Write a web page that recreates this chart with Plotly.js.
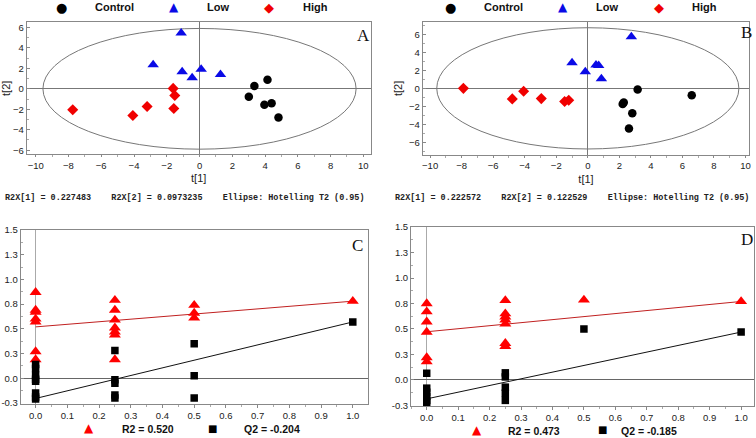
<!DOCTYPE html>
<html>
<head>
<meta charset="utf-8">
<script src="https://cdn.plot.ly/plotly-3.0.1.min.js"></script>
<style>html,body{margin:0;padding:0;background:#fff;}#chart{width:756px;height:438px;}</style>
</head>
<body>
<div id="chart"></div>
<script>
// ---------- Data ----------
const groupNames = ['Control', 'Low', 'High'];

// Panel A scores
const A_control_t1 = [3.01, 3.35, 4.15, 3.96, 4.40, 4.82];
const A_control_t2 = [-0.77, 0.27, 0.89, -1.56, -1.40, -2.80];
const A_low_t1 = [-1.12, -2.83, -1.06, -0.45, 0.10, 1.28];
const A_low_t2 = [5.45, 2.36, 1.67, 1.09, 1.90, 1.41];
const A_high_t1 = [-7.74, -4.07, -3.20, -1.61, -1.51, -1.57];
const A_high_t2 = [-2.05, -2.60, -1.72, 0.04, -0.65, -1.92];
const A_ellipse = [9.56, 5.90]; // Hotelling T2 (0.95) semi-axes
const A_stats = 'R2X[1] = 0.227483    R2X[2] = 0.0973235    Ellipse: Hotelling T2 (0.95)';

// Panel B scores
const B_control_t1 = [3.16, 6.59, 2.21, 2.28, 2.82, 2.61];
const B_control_t2 = [-0.14, -0.77, -1.73, -1.58, -2.76, -4.46];
const B_low_t1 = [2.76, -1.00, -0.16, 0.52, 0.69, 0.86];
const B_low_t2 = [5.73, 2.85, 1.85, 2.59, 2.55, 1.07];
const B_high_t1 = [-7.89, -4.07, -4.79, -2.95, -1.47, -1.21];
const B_high_t2 = [0.00, -0.32, -1.17, -1.14, -1.47, -1.32];
const B_ellipse = [9.58, 6.73];
const B_stats = 'R2X[1] = 0.222572    R2X[2] = 0.122529    Ellipse: Hotelling T2 (0.95)';

// Panel C permutation test
const C_r2_x = [0,0,0,0,0,0,0, 0.25,0.25,0.25,0.25,0.25,0.25,0.25, 0.5,0.5,0.5, 1];
const C_r2_y = [0.87,0.69,0.67,0.60,0.57,0.27,0.19, 0.79,0.69,0.59,0.51,0.47,0.44,0.19, 0.74,0.66,0.61, 0.78];
const C_q2_x = [0,0,0,0,0,0,0,0, 0.25,0.25,0.25,0.25,0.25, 0.5,0.5,0.5, 1];
const C_q2_y = [0.14,0.10,0.03,-0.01,-0.03,-0.15,-0.19,-0.21, 0.28,-0.015,-0.05,-0.17,-0.20, 0.35,0.025,-0.20, 0.57];
const C_r2_line_x = [0, 1], C_r2_line_y = [0.520, 0.78];
const C_q2_line_x = [0, 1], C_q2_line_y = [-0.204, 0.57];
const C_r2_label = 'R2 = 0.520', C_q2_label = 'Q2 = -0.204';

// Panel D permutation test
const D_r2_x = [0,0,0,0,0,0, 0.25,0.25,0.25,0.25,0.25,0.25,0.25, 0.5, 1];
const D_r2_y = [0.75,0.67,0.57,0.47,0.22,0.18, 0.78,0.65,0.62,0.59,0.55,0.36,0.33, 0.785, 0.77];
const D_q2_x = [0,0,0,0,0,0, 0.25,0.25,0.25,0.25,0.25, 0.5, 1];
const D_q2_y = [0.066,-0.08,-0.12,-0.16,-0.20,-0.22, 0.07,0.03,-0.07,-0.13,-0.20, 0.50, 0.47];
const D_r2_line_x = [0, 1], D_r2_line_y = [0.473, 0.77];
const D_q2_line_x = [0, 1], D_q2_line_y = [-0.185, 0.47];
const D_r2_label = 'R2 = 0.473', D_q2_label = 'Q2 = -0.185';

// Tick labels
const scoreTicksX = [-10,-8,-6,-4,-2,0,2,4,6,8,10];
const scoreTicksY = [-6,-4,-2,0,2,4,6];
const permTickVals = [-0.25,0,0.25,0.5,0.75,1.0,1.25,1.5];
const permTickText = ['-0.3','0.0','0.3','0.5','0.8','1.0','1.3','1.5'];
const permXTicks = [0,0.1,0.2,0.3,0.4,0.5,0.6,0.7,0.8,0.9,1.0];
const permXText = ['0.0','0.1','0.2','0.3','0.4','0.5','0.6','0.7','0.8','0.9','1.0'];
const panelLetters = ['A','B','C','D'];

// ---------- Styles ----------
const SANS = 'Liberation Sans, Arial, sans-serif';
const BLUE = '#0a0ae6', RED = '#f00000';
const groupStyle = [
  {symbol: 'circle', color: '#000000', size: 8.5, glyph: '\u25CF', gsize: 13},
  {symbol: 'triangle-up', color: BLUE, size: 10, glyph: '\u25B2', gsize: 12},
  {symbol: 'diamond', color: RED, size: 8.5, glyph: '\u25C6', gsize: 13}
];

function scoreTraces(xa, ya, sets) {
  return sets.map((s, i) => ({
    type: 'scatter', mode: 'markers', x: s[0], y: s[1], name: groupNames[i],
    xaxis: xa, yaxis: ya, showlegend: false,
    marker: {symbol: groupStyle[i].symbol, color: groupStyle[i].color, size: groupStyle[i].size, line: {width: 0}},
    hoverinfo: 'skip'
  }));
}

function permTraces(xa, ya, r2x, r2y, q2x, q2y, rlx, rly, qlx, qly, rlab, qlab) {
  return [
    {type:'scatter', mode:'lines', x: rlx, y: rly, xaxis: xa, yaxis: ya, showlegend:false,
     line:{color:'#c02020', width:1}, hoverinfo:'skip'},
    {type:'scatter', mode:'lines', x: qlx, y: qly, xaxis: xa, yaxis: ya, showlegend:false,
     line:{color:'#111111', width:1}, hoverinfo:'skip'},
    {type:'scatter', mode:'markers', x: r2x, y: r2y, name: rlab, xaxis: xa, yaxis: ya, showlegend:false,
     marker:{symbol:'triangle-up', color:'#ff0000', size:10.5}, hoverinfo:'skip'},
    {type:'scatter', mode:'markers', x: q2x, y: q2y, name: qlab, xaxis: xa, yaxis: ya, showlegend:false,
     marker:{symbol:'square', color:'#000000', size:7.5}, hoverinfo:'skip'}
  ];
}

const data = [].concat(
  scoreTraces('x', 'y', [[A_control_t1, A_control_t2], [A_low_t1, A_low_t2], [A_high_t1, A_high_t2]]),
  scoreTraces('x2', 'y2', [[B_control_t1, B_control_t2], [B_low_t1, B_low_t2], [B_high_t1, B_high_t2]]),
  permTraces('x3','y3', C_r2_x, C_r2_y, C_q2_x, C_q2_y, C_r2_line_x, C_r2_line_y, C_q2_line_x, C_q2_line_y, C_r2_label, C_q2_label),
  permTraces('x4','y4', D_r2_x, D_r2_y, D_q2_x, D_q2_y, D_r2_line_x, D_r2_line_y, D_q2_line_x, D_q2_line_y, D_r2_label, D_q2_label)
);

const W = 756, H = 438;
const px = v => v / W, py = v => 1 - v / H;

const tickFont = {family: SANS, size: 9.5, color: '#222'};
function scoreAxis(dom, range, ticks, title, isX) {
  return {
    domain: dom, range: range, tickvals: ticks, tickfont: tickFont,
    showgrid: false, zeroline: true, zerolinecolor: '#777', zerolinewidth: 1,
    showline: true, mirror: true, linecolor: '#888', linewidth: 1,
    ticks: isX ? 'outside' : 'inside', ticklen: isX ? 2 : 3, tickcolor: '#888',
    minor: {dtick: 1, ticks: isX ? 'outside' : 'inside', ticklen: 2, tickcolor: '#aaa'},
    title: {text: title, font: {family: SANS, size: 11, color: '#222'}, standoff: 4},
    automargin: false, fixedrange: true
  };
}
function permAxisX(dom, range) {
  return {
    domain: dom, range: range, tickvals: permXTicks, ticktext: permXText, tickfont: tickFont,
    showgrid: false, zeroline: true, zerolinecolor: '#aaa', zerolinewidth: 1.5,
    showline: true, mirror: true, linecolor: '#888', linewidth: 1,
    ticks: 'outside', ticklen: 3, tickcolor: '#888',
    minor: {dtick: 0.05, ticks: 'outside', ticklen: 2, tickcolor: '#aaa'},
    automargin: false, fixedrange: true
  };
}
function permAxisY(dom, range) {
  return {
    domain: dom, range: range, tickvals: permTickVals, ticktext: permTickText, tickfont: tickFont,
    showgrid: false, zeroline: true, zerolinecolor: '#666', zerolinewidth: 1,
    showline: true, mirror: true, linecolor: '#888', linewidth: 1,
    ticks: 'inside', ticklen: 3, tickcolor: '#888',
    minor: {dtick: 0.125, ticks: 'inside', ticklen: 2, tickcolor: '#aaa'},
    automargin: false, fixedrange: true
  };
}

const statFont = {family: 'Liberation Mono, Courier New, monospace', size: 8.45, color: '#222', weight: 'bold'};
const letterFont = {family: 'Liberation Serif, Times New Roman, serif', size: 17, color: '#111'};
const legFont = {family: SANS, size: 11, color: '#111', weight: 'bold'};
const nb = s => s.replace(/ /g, '\u00a0');

function ann(x, y, text, font, xanchor) {
  return {xref: 'paper', yref: 'paper', x: px(x), y: py(y), xanchor: xanchor || 'center', yanchor: 'middle',
          text: text, showarrow: false, font: font};
}

// legend entries drawn as text (glyph + label)
function scoreLegend(markerX, labelX, y) {
  const out = [];
  groupNames.forEach((name, i) => {
    const g = groupStyle[i];
    out.push(ann(markerX[i], y, g.glyph, {family: 'DejaVu Sans', size: g.gsize, color: g.color}));
    out.push(ann(labelX[i], y, name, legFont, 'left'));
  });
  return out;
}
function permLegend(mx, lx, y, rlab, qlab) {
  return [
    ann(mx[0], y - 1, '\u25B2', {family: 'DejaVu Sans', size: 12, color: '#ff0000'}),
    ann(lx[0], y, rlab, {family: SANS, size: 10.5, color: '#111', weight: 'bold'}, 'left'),
    ann(mx[1], y - 1, '\u25A0', {family: 'DejaVu Sans', size: 10, color: '#000'}),
    ann(lx[1], y, qlab, {family: SANS, size: 10.5, color: '#111', weight: 'bold'}, 'left')
  ];
}

const layout = {
  width: W, height: H,
  margin: {l: 0, r: 0, t: 0, b: 0},
  paper_bgcolor: '#fff', plot_bgcolor: '#fff',
  showlegend: false,
  xaxis: scoreAxis([px(26.7), px(370.7)], [-10.55, 10.45], scoreTicksX, 't[1]', true),
  yaxis: scoreAxis([py(154.3), py(22.3)], [-6.4, 6.5], scoreTicksY, 't[2]', false),
  xaxis2: Object.assign(scoreAxis([px(422.7), px(749.3)], [-10.47, 10.24], scoreTicksX, 't[1]', true), {anchor: 'y2'}),
  yaxis2: Object.assign(scoreAxis([py(155), py(21.7)], [-7.4, 7.4], scoreTicksY, 't[2]', false), {anchor: 'x2'}),
  xaxis3: Object.assign(permAxisX([px(20.7), px(367.7)], [-0.047, 1.047]), {anchor: 'y3'}),
  yaxis3: Object.assign(permAxisY([py(404), py(230)], [-0.26, 1.5]), {anchor: 'x3'}),
  xaxis4: Object.assign(permAxisX([px(411), px(753.7)], [-0.05, 1.04]), {anchor: 'y4'}),
  yaxis4: Object.assign(permAxisY([py(406), py(227)], [-0.255, 1.5]), {anchor: 'x4'}),
  shapes: [
    {type: 'circle', xref: 'x', yref: 'y', x0: -A_ellipse[0], x1: A_ellipse[0], y0: -A_ellipse[1], y1: A_ellipse[1],
     line: {color: '#777', width: 1}, layer: 'below'},
    {type: 'circle', xref: 'x2', yref: 'y2', x0: -B_ellipse[0], x1: B_ellipse[0], y0: -B_ellipse[1], y1: B_ellipse[1],
     line: {color: '#777', width: 1}, layer: 'below'}
  ],
  annotations: [].concat(
    [
      ann(3, 198, nb(A_stats), statFont, 'left'),
      ann(393, 198, nb(B_stats), statFont, 'left'),
      ann(363, 35, panelLetters[0], letterFont),
      ann(746.5, 33, panelLetters[1], letterFont),
      ann(357, 245, panelLetters[2], letterFont),
      ann(747, 239, panelLetters[3], letterFont)
    ],
    scoreLegend([61.7, 174, 268.7], [92.7, 205, 301], 7.5),
    scoreLegend([451, 563.3, 659.3], [482, 594.3, 690], 7.5),
    permLegend([89.3, 212], [120, 242], 429, C_r2_label, C_q2_label),
    permLegend([476.7, 602.7], [506, 618.7], 430.7, D_r2_label, D_q2_label)
  )
};

Plotly.newPlot('chart', data, layout, {staticPlot: true, displayModeBar: false});
</script>
</body>
</html>
